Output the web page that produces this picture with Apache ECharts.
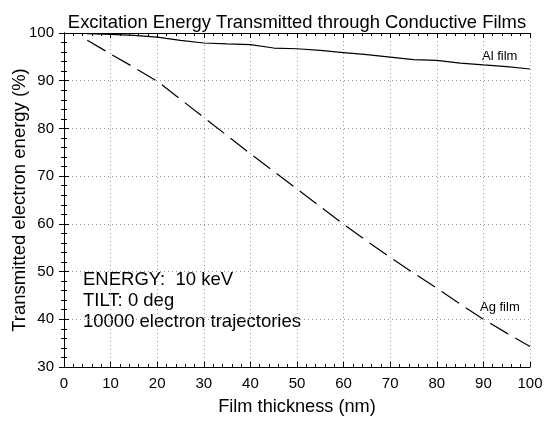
<!DOCTYPE html>
<html>
<head>
<meta charset="utf-8">
<script src="https://cdn.jsdelivr.net/npm/echarts@6/dist/echarts.min.js"></script>
<style>html,body{margin:0;padding:0;background:#fff;}#c{width:550px;height:425px;}</style>
</head>
<body>
<div id="c"></div>
<script>
const thickness = [5,10,15,20,25,30,35,40,45,50,55,60,65,70,75,80,85,90,95,100];
const alFilm = [99.85,99.7,99.5,99.15,98.45,97.9,97.7,97.55,96.85,96.7,96.35,95.9,95.45,94.95,94.4,94.25,93.7,93.3,92.95,92.45];
const agFilm = [98.5,95.6,92.8,89.9,86.1,82.3,78.5,74.7,71.0,67.3,63.6,59.9,56.4,53.0,49.7,46.5,43.2,40.0,37.1,34.3];
const xTicks = {min:0, max:100, interval:10};
const yTicks = {min:30, max:100, interval:10};
const titleText = 'Excitation Energy Transmitted through Conductive Films';
const xName = 'Film thickness (nm)';
const yName = 'Transmitted electron energy (%)';
const notes = ['ENERGY:  10 keV', 'TILT: 0 deg', '10000 electron trajectories'];

const FONT = '"Liberation Sans", Arial, sans-serif';
const chart = echarts.init(document.getElementById('c'), null, {renderer:'canvas'});

const tickStyle = {show:true, inside:true, length:5, lineStyle:{color:'#000', width:1}};
const minorStyle = {show:true, splitNumber:5, length:3, lineStyle:{color:'#000', width:1}};
const lineStyle = {show:true, lineStyle:{color:'#000', width:1}};
const gridLine = {show:true, lineStyle:{color:'#999', width:1, type:[1,3]}};

function pairs(ys){ return thickness.map((x,i)=>[x, ys[i]]); }

chart.setOption({
  animation:false,
  backgroundColor:'#fff',
  title:{text:titleText, left:292, top:9, textAlign:'center',
    textStyle:{fontFamily:FONT, fontSize:18.4, fontWeight:'normal', color:'#000'}},
  grid:{left:64, right:20, top:33, bottom:58, containLabel:false, outerBoundsMode:'none'},
  xAxis:[
    {type:'value', position:'bottom', min:xTicks.min, max:xTicks.max, interval:xTicks.interval,
     name:xName, nameLocation:'middle', nameGap:31, nameMoveOverlap:false,
     nameTextStyle:{fontFamily:FONT, fontSize:18.2, color:'#000'},
     axisLine:lineStyle, axisTick:tickStyle, minorTick:minorStyle,
     axisLabel:{fontFamily:FONT, fontSize:15, color:'#000', margin:9},
     splitLine:gridLine},
    {type:'value', position:'top', min:xTicks.min, max:xTicks.max, interval:xTicks.interval,
     axisLine:lineStyle, axisTick:tickStyle, minorTick:minorStyle,
     axisLabel:{show:false}, splitLine:{show:false}}
  ],
  yAxis:[
    {type:'value', position:'left', min:yTicks.min, max:yTicks.max, interval:yTicks.interval,
     name:yName, nameLocation:'middle', nameGap:35, nameMoveOverlap:false,
     nameTextStyle:{fontFamily:FONT, fontSize:18.5, color:'#000'},
     axisLine:lineStyle, axisTick:tickStyle, minorTick:minorStyle,
     axisLabel:{fontFamily:FONT, fontSize:15, color:'#000', margin:10},
     splitLine:gridLine},
    {type:'value', position:'right', min:yTicks.min, max:yTicks.max, interval:yTicks.interval,
     axisLine:lineStyle, axisTick:tickStyle, minorTick:minorStyle,
     axisLabel:{show:false}, splitLine:{show:false}}
  ],
  series:[
    {name:'Al film', type:'line', data:pairs(alFilm), showSymbol:false, symbol:'none',
     lineStyle:{color:'#000', width:1.2}, z:3},
    {name:'Ag film', type:'line', data:pairs(agFilm), showSymbol:false, symbol:'none',
     lineStyle:{color:'#000', width:1.2, type:[21,8]}, z:3}
  ],
  graphic:[
    {type:'text', left:482, top:50, style:{text:'Al film', fontFamily:FONT, fontSize:13, fill:'#000'}},
    {type:'text', left:480, top:301, style:{text:'Ag film', fontFamily:FONT, fontSize:13, fill:'#000'}},
    {type:'text', x:83, y:280.4, style:{text:notes[0], fontFamily:FONT, fontSize:18.5, fill:'#000', verticalAlign:'middle'}},
    {type:'text', x:83, y:301.2, style:{text:notes[1], fontFamily:FONT, fontSize:18.5, fill:'#000', verticalAlign:'middle'}},
    {type:'text', x:83, y:321.6, style:{text:notes[2], fontFamily:FONT, fontSize:18.5, fill:'#000', verticalAlign:'middle'}}
  ]
});
</script>
</body>
</html>
